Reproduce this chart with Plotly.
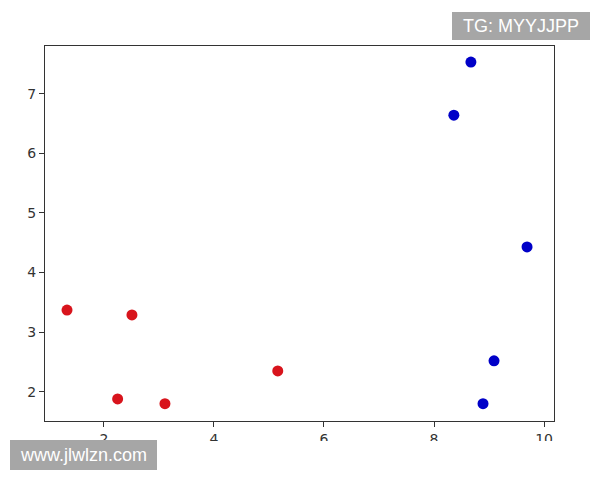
import plotly.graph_objects as go

# data
red_x = [1.33, 2.25, 2.51, 3.11, 5.16]
red_y = [3.37, 1.88, 3.29, 1.80, 2.35]
blue_x = [8.67, 8.36, 9.69, 9.09, 8.89]
blue_y = [7.53, 6.64, 4.43, 2.52, 1.80]
x_ticks = [2, 4, 6, 8, 10]
y_ticks = [2, 3, 4, 5, 6, 7]

OFF = 8  # page body margin
W, H = 600 - OFF, 480 - OFF
L, T = 45 - OFF, 46 - OFF
R = W - (554 - OFF)
B = H - (421 - OFF)
PW, PH = W - L - R, H - T - B


def px(x):
    return (x - OFF - L) / PW


def py(y):
    return (H - B - (y - OFF)) / PH


fig = go.Figure()
fig.add_trace(go.Scatter(x=red_x, y=red_y, mode="markers",
                         marker=dict(color="#d8141c", size=11, line=dict(width=0)),
                         showlegend=False))
fig.add_trace(go.Scatter(x=blue_x, y=blue_y, mode="markers",
                         marker=dict(color="#0000c8", size=11, line=dict(width=0)),
                         showlegend=False))

axis_common = dict(showgrid=False, zeroline=False, showline=True, linecolor="#333333",
                   linewidth=1.3, mirror=True, ticks="outside", ticklen=5, tickwidth=1.2,
                   tickcolor="#333333", tickfont=dict(family="DejaVu Sans", size=14, color="#333333"))

fig.update_layout(
    width=W, height=H,
    margin=dict(l=L, r=R, t=T, b=B),
    paper_bgcolor="white", plot_bgcolor="white",
    xaxis=dict(range=[0.93, 10.18], tickvals=x_ticks, **axis_common),
    yaxis=dict(range=[1.51, 7.80], tickvals=y_ticks, **axis_common),
    shapes=[
        dict(type="rect", xref="paper", yref="paper", x0=px(-10), x1=px(W + 20),
             y0=py(H + 20), y1=py(441), fillcolor="white", line=dict(width=0), layer="above"),
        dict(type="rect", xref="paper", yref="paper", x0=px(452), x1=px(590),
             y0=py(40), y1=py(12), fillcolor="#a6a6a6", line=dict(width=0), layer="above"),
        dict(type="rect", xref="paper", yref="paper", x0=px(10), x1=px(157),
             y0=py(470), y1=py(440), fillcolor="#a6a6a6", line=dict(width=0), layer="above"),
    ],
    annotations=[
        dict(text="TG: MYYJJPP", xref="paper", yref="paper", x=px(521), y=py(26),
             showarrow=False, xanchor="center", yanchor="middle",
             font=dict(family="Liberation Sans", size=18, color="white")),
        dict(text="www.jlwlzn.com", xref="paper", yref="paper", x=px(83.5), y=py(455),
             showarrow=False, xanchor="center", yanchor="middle",
             font=dict(family="Liberation Sans", size=18, color="white")),
    ],
)

fig.write_html("out.html")
